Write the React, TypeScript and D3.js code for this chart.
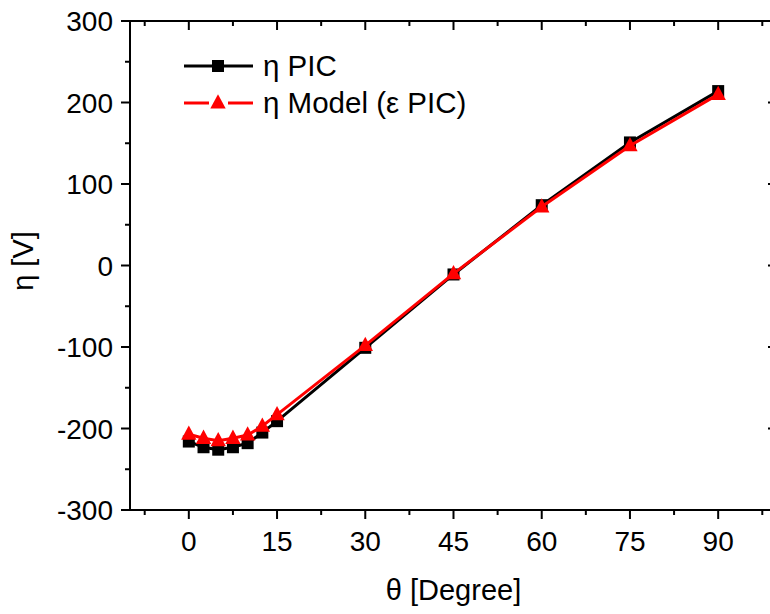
import React from "react";
import * as d3 from "d3";

const thetaDeg = [0, 2.5, 5, 7.5, 10, 12.5, 15, 30, 45, 60, 75, 90];
const etaPIC = [-216, -223, -226, -223, -218, -205, -191, -101, -11, 74, 151, 214];
const etaModel = [-207, -212, -215, -212, -208, -197, -183, -98, -10, 72, 147, 210];
const xTicks = [0, 15, 30, 45, 60, 75, 90];
const xMinorTicks = [-7.5, 7.5, 22.5, 37.5, 52.5, 67.5, 82.5, 97.5];
const yTicks = [-300, -200, -100, 0, 100, 200, 300];
const yMinorTicks = [-250, -150, -50, 50, 150, 250];
const seriesNames = ["η PIC", "η Model (ε PIC)"];

const W = 770;
const H = 614;
const left = 130;
const right = 777;
const top = 21;
const bottom = 510;
const FONT = "'Liberation Sans', Arial, sans-serif";

export default function App() {
  const x = d3.scaleLinear().domain([-10, 100]).range([left, right]);
  const y = d3.scaleLinear().domain([-300, 300]).range([bottom, top]);

  const pic = thetaDeg.map((t, i) => [t, etaPIC[i]] as [number, number]);
  const model = thetaDeg.map((t, i) => [t, etaModel[i]] as [number, number]);
  const line = d3
    .line<[number, number]>()
    .x((d) => x(d[0]))
    .y((d) => y(d[1]));

  const sq = 12;
  const tri = (cx: number, cy: number, s: number) =>
    `M${cx},${cy - s * 0.62} L${cx + s * 0.55},${cy + s * 0.4} L${cx - s * 0.55},${cy + s * 0.4} Z`;

  const majorLen = 9;
  const minorLen = 5;
  const tickFont = 28;
  const titleFont = 29;
  const legendFont = 29.5;

  return (
    <svg
      width={W}
      height={H}
      style={{ position: "absolute", left: 0, top: 0, background: "#fff" }}
      fontFamily={FONT}
    >
      <rect x={0} y={0} width={W} height={H} fill="#fff" />
      {/* frame */}
      <rect
        x={left}
        y={top}
        width={right - left}
        height={bottom - top}
        fill="none"
        stroke="#000"
        strokeWidth={2}
      />
      {/* bottom axis ticks (outward) and top axis ticks (inward) */}
      {xTicks.map((t) => (
        <g key={"xt" + t}>
          <line x1={x(t)} x2={x(t)} y1={bottom} y2={bottom + majorLen} stroke="#000" strokeWidth={2} />
          <line x1={x(t)} x2={x(t)} y1={top} y2={top + majorLen} stroke="#000" strokeWidth={2} />
          <text x={x(t)} y={551} textAnchor="middle" fontSize={tickFont} fill="#000">
            {t}
          </text>
        </g>
      ))}
      {xMinorTicks.map((t) => (
        <g key={"xm" + t}>
          <line x1={x(t)} x2={x(t)} y1={bottom} y2={bottom + minorLen} stroke="#000" strokeWidth={2} />
          <line x1={x(t)} x2={x(t)} y1={top} y2={top + minorLen} stroke="#000" strokeWidth={2} />
        </g>
      ))}
      {/* left axis ticks (outward) and right axis ticks (inward) */}
      {yTicks.map((t) => (
        <g key={"yt" + t}>
          <line x1={left - majorLen} x2={left} y1={y(t)} y2={y(t)} stroke="#000" strokeWidth={2} />
          <line x1={right - majorLen} x2={right} y1={y(t)} y2={y(t)} stroke="#000" strokeWidth={2} />
          <text x={113} y={y(t) + 10} textAnchor="end" fontSize={tickFont} fill="#000">
            {t}
          </text>
        </g>
      ))}
      {yMinorTicks.map((t) => (
        <g key={"ym" + t}>
          <line x1={left - minorLen} x2={left} y1={y(t)} y2={y(t)} stroke="#000" strokeWidth={2} />
          <line x1={right - minorLen} x2={right} y1={y(t)} y2={y(t)} stroke="#000" strokeWidth={2} />
        </g>
      ))}
      {/* axis titles */}
      <text x={(left + right) / 2} y={600} textAnchor="middle" fontSize={titleFont} fill="#000">
        θ [Degree]
      </text>
      <text
        transform={`translate(33, 261) rotate(-90)`}
        textAnchor="middle"
        fontSize={titleFont}
        fill="#000"
      >
        η [V]
      </text>
      {/* series 1 */}
      <path d={line(pic) || ""} fill="none" stroke="#000" strokeWidth={3} />
      {pic.map((d, i) => (
        <rect key={"s" + i} x={x(d[0]) - sq / 2} y={y(d[1]) - sq / 2} width={sq} height={sq} fill="#000" />
      ))}
      {/* series 2 */}
      <path d={line(model) || ""} fill="none" stroke="#ff0000" strokeWidth={3} />
      {model.map((d, i) => (
        <path key={"t" + i} d={tri(x(d[0]), y(d[1]), 14)} fill="#ff0000" />
      ))}
      {/* legend */}
      <line x1={184} x2={253} y1={66} y2={66} stroke="#000" strokeWidth={3} />
      <rect x={218 - 6} y={66 - 6} width={12} height={12} fill="#000" />
      <text x={263} y={76} fontSize={legendFont} fill="#000">
        {seriesNames[0]}
      </text>
      <line x1={184} x2={209} y1={103} y2={103} stroke="#ff0000" strokeWidth={3} />
      <line x1={228} x2={253} y1={103} y2={103} stroke="#ff0000" strokeWidth={3} />
      <path d={tri(218, 103, 14)} fill="#ff0000" />
      <text x={263} y={113} fontSize={legendFont} fill="#000">
        {seriesNames[1]}
      </text>
    </svg>
  );
}
